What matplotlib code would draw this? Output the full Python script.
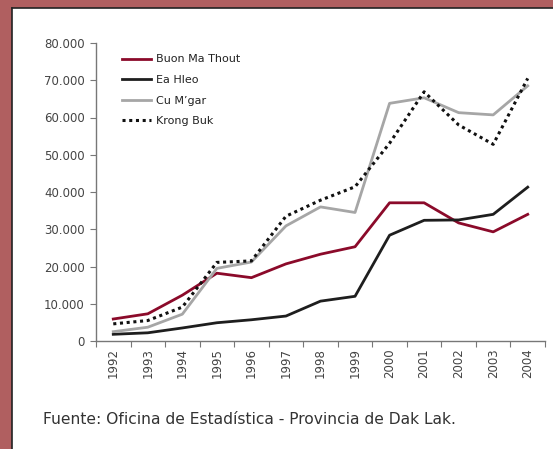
import matplotlib
matplotlib.use("Agg")
import matplotlib.pyplot as plt
from matplotlib.patches import Rectangle
from matplotlib.ticker import FuncFormatter, FixedLocator

# data
years = ["1992", "1993", "1994", "1995", "1996", "1997", "1998",
         "1999", "2000", "2001", "2002", "2003", "2004"]
buon_ma_thout = [5900, 7300, 12300, 18200, 17000, 20700, 23300,
                 25300, 37100, 37100, 31700, 29300, 34000]
ea_hleo = [1800, 2200, 3500, 4900, 5700, 6700, 10700,
           12000, 28400, 32400, 32500, 34000, 41300]
cu_mgar = [2500, 3700, 7200, 19500, 21200, 30900, 36000,
           34500, 63800, 65300, 61300, 60700, 68500]
krong_buk = [4600, 5500, 9100, 21100, 21500, 33500, 37800,
             41400, 53100, 66900, 58000, 52800, 70500]

plt.rcParams['font.family'] = ['DejaVu Sans']

W, H = 553, 449
fig = plt.figure(figsize=(W / 100, H / 100), dpi=100)
fig.patch.set_facecolor('#b05f60')

# white panel with dark edge, behind the axes
fig.add_artist(Rectangle((12 / W, 0), 1, 1 - 8 / H, transform=fig.transFigure,
                         facecolor='white', edgecolor='none', zorder=-10))
fig.add_artist(plt.Line2D([12 / W, 12 / W], [0, 1 - 8 / H], transform=fig.transFigure,
                          color='#222222', lw=1.2, zorder=-5))
fig.add_artist(plt.Line2D([12 / W, 1], [1 - 8 / H, 1 - 8 / H], transform=fig.transFigure,
                          color='#222222', lw=1.2, zorder=-5))

ax = fig.add_axes([96 / W, 1 - 341 / H, (545 - 96) / W, (341 - 43) / H])
ax.set_facecolor('none')

x = list(range(len(years)))
ax.plot(x, buon_ma_thout, color='#8b0a2a', lw=2, label='Buon Ma Thout')
ax.plot(x, ea_hleo, color='#1e1e1e', lw=2, label='Ea Hleo')
ax.plot(x, cu_mgar, color='#a6a6a6', lw=2, label='Cu M\u2019gar')
ax.plot(x, krong_buk, color='#111111', lw=2.2, ls=(0, (1, 1.2)), label='Krong Buk')

ax.set_xlim(-0.5, len(years) - 0.5)
ax.set_ylim(0, 80000)
ax.yaxis.set_major_locator(FixedLocator(range(0, 80001, 10000)))
ax.yaxis.set_major_formatter(FuncFormatter(lambda v, p: f"{int(v):,}".replace(',', '.')))

ax.xaxis.set_major_locator(FixedLocator([i - 0.5 for i in range(len(years) + 1)]))
ax.xaxis.set_major_formatter(FuncFormatter(lambda v, p: ''))
ax.set_xticks(x, minor=True)
ax.set_xticklabels(years, minor=True, rotation=90, fontsize=8.5, color='#444444')
ax.tick_params(axis='x', which='minor', length=0, pad=5)
ax.tick_params(axis='x', which='major', length=4, direction='out', color='#777777')
ax.tick_params(axis='y', length=4, color='#777777', labelsize=8.5, labelcolor='#444444', pad=4)

for s in ['top', 'right']:
    ax.spines[s].set_visible(False)
for s in ['left', 'bottom']:
    ax.spines[s].set_color('#777777')
    ax.spines[s].set_linewidth(1)

leg = ax.legend(loc='upper left', bbox_to_anchor=(0.035, 0.995), frameon=False,
                fontsize=8, handlelength=2.6, handletextpad=0.5, labelspacing=0.95)
for t in leg.get_texts():
    t.set_color('#222222')

fig.text(43 / W, 1 - 419 / H, 'Fuente: Oficina de Estad\u00edstica - Provincia de Dak Lak.',
         fontsize=11.2, color='#333333', va='center', ha='left')

fig.savefig('out.png', dpi=100, facecolor=fig.get_facecolor())
